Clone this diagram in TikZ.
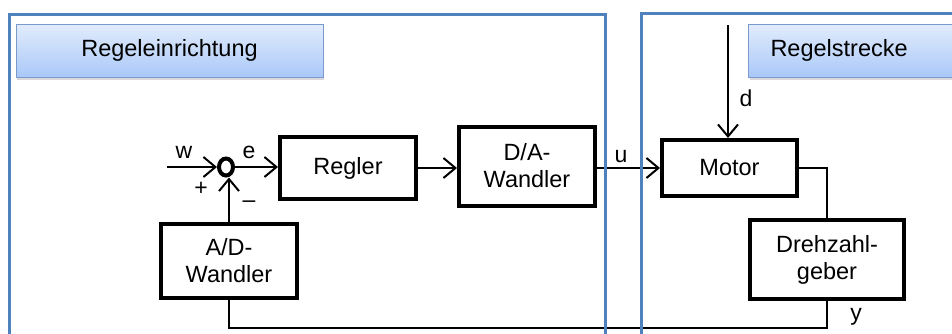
\documentclass[tikz,border=0pt]{standalone}
\usepackage{fontspec}
\setmainfont{Liberation Sans}
\usetikzlibrary{arrows.meta, shapes.geometric, shadows}

\definecolor{frameblue}{HTML}{4F81BD}
\definecolor{boxtop}{HTML}{E2ECFC}
\definecolor{boxbottom}{HTML}{A9C8F8}
\definecolor{boxborder}{HTML}{7A9AD0}

\begin{document}
\begin{tikzpicture}[x=1pt, y=-1pt, font=\fontsize{23.5}{27}\selectfont]

	\tikzstyle{block}=[draw, line width=4pt, inner sep=0pt, align=center]
	\tikzstyle{sumnode}=[draw, ellipse, line width=4pt, minimum width=14pt, minimum height=17pt, inner sep=0pt]
	\tikzstyle{titlebox}=[draw=boxborder, line width=1pt, top color=boxtop, bottom color=boxbottom, drop shadow={opacity=0.3, shadow xshift=1pt, shadow yshift=-3pt}, inner sep=0pt]
	\tikzstyle{lbl}=[font=\fontsize{23}{26}\selectfont, anchor=base, inner sep=0pt]

	\tikzstyle{sig}=[line width=2pt, -{Straight Barb[length=12pt, width=20pt]}]
	\tikzstyle{wire}=[line width=2pt]
	\tikzstyle{frame}=[draw=frameblue, line width=3pt]

	\useasboundingbox (0,0) rectangle (952,333);
	\clip (0,0) rectangle (952,333);

	\node[titlebox, minimum width=307pt, minimum height=53pt] (ctrl) at (169.5,50.5) {Regeleinrichtung};
	\node[titlebox, anchor=west, minimum height=53pt, text width=185pt, align=left, inner xsep=22pt] (plant) at (748,50.5) {Regelstrecke};

	\node[sumnode] (sum) at (226,167) {};
	\node[block, minimum width=136pt, minimum height=62pt] (regler) at (348,168) {Regler};
	\node[block, minimum width=136pt, minimum height=79pt] (da) at (527,166) {D/A-\\Wandler};
	\node[block, minimum width=135pt, minimum height=56pt] (motor) at (729.5,168) {Motor};
	\node[block, minimum width=154pt, minimum height=79pt] (dz) at (827,259.5) {Drehzahl-\\geber};
	\node[block, minimum width=136pt, minimum height=74pt] (ad) at (229,261) {A/D-\\Wandler};

	\coordinate (win) at (167,167);
	\coordinate (din) at (728,25);

	\draw[sig] (win) -- (sum.west);
	\draw[sig] (sum.east) -- (sum.east -| regler.west);
	\draw[sig] (regler.east) -- (regler.east -| da.west);
	\draw[sig] (da.east |- motor.west) -- (motor.west);
	\draw[sig] (din) -- (din |- motor.north);

	% feedback path
	\draw[wire] (motor.east) -| (dz.north);
	\draw[wire] (dz.south) -- ++(0,27) -| (ad.south);
	\draw[sig] (ad.north) -- (ad.north |- sum.south);

	\node[lbl] (wlbl) at (184,158) {w};
	\node[lbl] (elbl) at (249,158) {e};
	\node[lbl] (plus) at (201,195) {+};
	\node[lbl] (minus) at (249,207) {\textendash};
	\node[lbl] (ulbl) at (621,162) {u};
	\node[lbl] (dlbl) at (746,106) {d};
	\node[lbl] (ylbl) at (856,320) {y};

	% frames
	\draw[frame] (9,345) -- (9,14) -- (605,14) -- (605,345);
	\draw[frame] (641,345) -- (641,13) -- (965,13);

\end{tikzpicture}
\end{document}
